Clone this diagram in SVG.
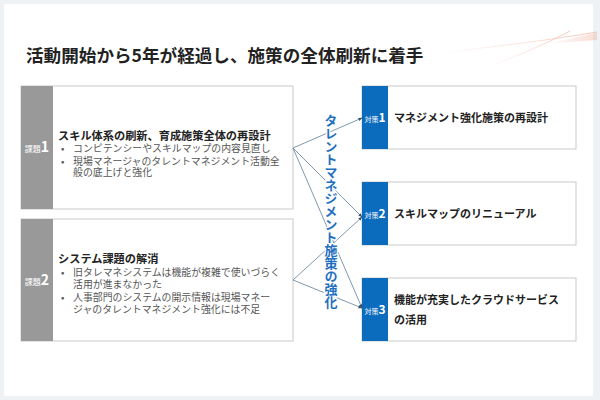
<svg xmlns="http://www.w3.org/2000/svg" width="600" height="400" viewBox="0 0 600 400">
<defs>
<style>
text{font-family:"Noto Sans CJK JP","Noto Sans",sans-serif}
.box{fill:#fff;stroke:#c9c9c9;stroke-width:1}
.gbar{fill:#999}
.bbar{fill:#0b6bbd}
.lab{fill:#fff;text-anchor:middle}
.h{font-size:11.2px;font-weight:700;fill:#222}
.b{font-size:9.9px;fill:#555}
.rt{font-size:11px;font-weight:700;fill:#222}
.con{stroke:#5f7e98;stroke-width:0.8;fill:none;marker-end:url(#ah)}
</style>
<marker id="ah" viewBox="0 0 10 10" refX="9" refY="5" markerWidth="5" markerHeight="5" orient="auto">
<path d="M0,1 L10,5 L0,9 z" fill="#33506b"/>
</marker>
<linearGradient id="sw" x1="0" y1="0" x2="1" y2="0">
<stop offset="0" stop-color="#f4c8bc" stop-opacity="0"/>
<stop offset="1" stop-color="#f2b9a8" stop-opacity="0.85"/>
</linearGradient>
</defs>
<rect x="0" y="0" width="600" height="400" fill="#eef2f5"/>
<rect x="4" y="4" width="589" height="392" fill="#fff"/>
<g id="decor" fill="none" stroke="url(#sw)">
<path d="M440,53 C500,46 550,40 597,32" stroke-width="1"/>
<path d="M490,66 C520,55 550,42 570,31" stroke-width="1"/>
<path d="M545,44 C565,40 580,36 597,33 L597,40 C580,41 565,43 545,44 z" fill="url(#sw)" stroke="none" opacity="0.6"/>
</g>
<text x="26" y="62" font-size="17.6" font-weight="700" fill="#222">活動開始から5年が経過し、施策の全体刷新に着手</text>
<g id="issue1">
<rect class="box" x="21" y="86" width="272" height="123"/>
<rect class="gbar" x="21" y="86" width="32" height="123"/>
<text class="lab" x="37" y="152"><tspan font-size="8">課題</tspan><tspan font-size="14" font-weight="700">1</tspan></text>
<text class="h" x="58" y="140">スキル体系の刷新、育成施策全体の再設計</text>
<text class="b" x="61" y="152">•</text>
<text class="b" x="73" y="152">コンピテンシーやスキルマップの内容見直し</text>
<text class="b" x="61" y="164.5">•</text>
<text class="b" x="73" y="164.5">現場マネージャのタレントマネジメント活動全</text>
<text class="b" x="73" y="176">般の底上げと強化</text>
</g>
<g id="issue2">
<rect class="box" x="21" y="219" width="272" height="122"/>
<rect class="gbar" x="21" y="219" width="32" height="122"/>
<text class="lab" x="37" y="285"><tspan font-size="8">課題</tspan><tspan font-size="14" font-weight="700">2</tspan></text>
<text class="h" x="58" y="263">システム課題の解消</text>
<text class="b" x="61" y="276">•</text>
<text class="b" x="73" y="276">旧タレマネシステムは機能が複雑で使いづらく</text>
<text class="b" x="73" y="287.5">活用が進まなかった</text>
<text class="b" x="61" y="301">•</text>
<text class="b" x="73" y="301">人事部門のシステムの開示情報は現場マネー</text>
<text class="b" x="73" y="312.5">ジャのタレントマネジメント強化には不足</text>
</g>
<g id="measure1">
<rect class="box" x="362" y="86" width="214" height="63"/>
<rect class="bbar" x="362" y="86" width="26" height="63"/>
<text class="lab" x="375" y="122"><tspan font-size="7">対策</tspan><tspan font-size="12" font-weight="700">1</tspan></text>
<text class="rt" x="394" y="121.5">マネジメント強化施策の再設計</text>
</g>
<g id="measure2">
<rect class="box" x="362" y="182" width="214" height="63"/>
<rect class="bbar" x="362" y="182" width="26" height="63"/>
<text class="lab" x="375" y="218"><tspan font-size="7">対策</tspan><tspan font-size="12" font-weight="700">2</tspan></text>
<text class="rt" x="394" y="217.5">スキルマップのリニューアル</text>
</g>
<g id="measure3">
<rect class="box" x="362" y="278" width="214" height="63"/>
<rect class="bbar" x="362" y="278" width="26" height="63"/>
<text class="lab" x="375" y="314"><tspan font-size="7">対策</tspan><tspan font-size="12" font-weight="700">3</tspan></text>
<text class="rt" x="394" y="304">機能が充実したクラウドサービス</text>
<text class="rt" x="394" y="324">の活用</text>
</g>
<g id="connectors">
<line class="con" x1="293" y1="148" x2="362" y2="118"/>
<line class="con" x1="293" y1="148" x2="362" y2="217"/>
<line class="con" x1="293" y1="148" x2="362" y2="308"/>
<line class="con" x1="293" y1="280" x2="362" y2="217"/>
<line class="con" x1="293" y1="280" x2="362" y2="308"/>
</g>
<g id="theme">
<text x="331" y="211.5" font-size="13" font-weight="700" fill="#1f6fbf" text-anchor="middle" stroke="#fff" stroke-width="2.5" paint-order="stroke" style="writing-mode:vertical-rl">タレントマネジメント施策の強化</text>
</g>
</svg>
